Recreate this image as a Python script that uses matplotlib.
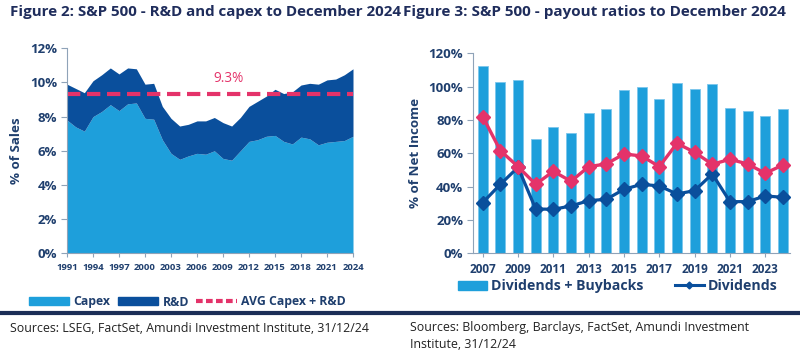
import matplotlib
matplotlib.use("Agg")
import matplotlib.pyplot as plt
from matplotlib.patches import Patch
from matplotlib.lines import Line2D
import numpy as np

plt.rcParams['font.family'] = ['Open Sans', 'DejaVu Sans']

# ---------------- data ----------------
years_l = list(range(1991, 2025))
capex = [7.8, 7.4, 7.15, 8.0, 8.3, 8.7, 8.35, 8.75, 8.8, 7.9, 7.85, 6.65, 5.85, 5.5, 5.7,
         5.85, 5.8, 6.0, 5.55, 5.45, 6.0, 6.55, 6.65, 6.85, 6.9, 6.55, 6.4, 6.8, 6.7, 6.35,
         6.5, 6.55, 6.6, 6.85]
rnd = [2.1, 2.25, 2.25, 2.1, 2.15, 2.15, 2.15, 2.1, 2.0, 2.0, 2.1, 1.95, 2.05, 1.95, 1.85,
       1.9, 1.95, 1.95, 2.1, 2.0, 1.95, 2.05, 2.25, 2.35, 2.7, 2.8, 3.05, 3.05, 3.25, 3.55,
       3.65, 3.65, 3.85, 3.95]
avg_capex_rnd = 9.3
xticks_l = list(range(1991, 2025, 3))

years_r = list(range(2007, 2025))
div_buyback = [112.6, 103, 104, 68.4, 75.8, 72, 84.4, 86.4, 98.2, 100, 92.4, 102, 98.6,
               101.8, 87.4, 85.2, 82.4, 86.6]
payout = [82, 61.6, 52, 41.4, 49.2, 43.2, 52, 53.6, 59.6, 58.4, 52, 66, 60.6, 53.4,
          56.4, 53.6, 48, 53]
dividends = [30.4, 41.4, 51.6, 26.6, 26.4, 28.4, 31.6, 32.4, 38.4, 41.4, 40.4, 35.6,
             37.6, 47.6, 31, 31, 34.4, 33.6]
xticks_r = list(range(2007, 2024, 2))

# ---------------- style ----------------
LIGHT = '#1E9FDB'
DARK = '#0A4F9C'
PINK = '#E4336A'
NAVY = '#1F2D5C'
TICKC = '#1F3F6E'
SPINE = '#8FA3B8'

fig = plt.figure(figsize=(8.0, 3.51), dpi=100)
W, H = 800, 351

def ax_rect(x0, y0, x1, y1):
    return [x0 / W, 1 - y1 / H, (x1 - x0) / W, (y1 - y0) / H]

# titles
fig.text(10 / W, 1 - 12 / H, 'Figure 2: S&P 500 - R&D and capex to December 2024',
         fontsize=10.9, fontweight='bold', color=NAVY, va='center', ha='left')
fig.text(403 / W, 1 - 12 / H, 'Figure 3: S&P 500 - payout ratios to December 2024',
         fontsize=11.0, fontweight='bold', color=NAVY, va='center', ha='left')

# ---------------- left chart ----------------
axl = fig.add_axes(ax_rect(67, 48.3, 353, 253.3))
cap = np.array(capex)
tot = cap + np.array(rnd)
axl.fill_between(years_l, 0, cap, color=LIGHT, lw=0)
axl.fill_between(years_l, cap, tot, color=DARK, lw=0)
axl.axhline(avg_capex_rnd, color=PINK, lw=3, ls=(0, (3.2, 1.6)))
axl.text(2009.6, 10.25, '9.3%', color=PINK, fontsize=9.8, ha='center', va='center')
axl.set_xlim(1991, 2024)
axl.set_ylim(0, 12)
axl.set_yticks(np.arange(0, 13, 2))
axl.set_yticklabels([f'{v}%' for v in range(0, 13, 2)])
axl.set_xticks(xticks_l)
axl.set_xticklabels([str(y) for y in xticks_l])
axl.tick_params(axis='y', labelsize=9.5, colors=SPINE, labelcolor=TICKC, length=4, width=0.8, pad=3)
axl.tick_params(axis='x', labelsize=6.8, colors=SPINE, labelcolor=TICKC, length=3, width=0.8, pad=4)
for lab in axl.get_yticklabels() + axl.get_xticklabels():
    lab.set_fontweight('bold')
for s in ['top', 'right']:
    axl.spines[s].set_visible(False)
axl.spines['left'].set_color(SPINE)
axl.spines['bottom'].set_color(SPINE)
axl.set_ylabel('% of Sales', fontsize=9.6, fontweight='bold', color=TICKC, labelpad=5)

handles_l = [Patch(color=LIGHT, label='Capex'), Patch(color=DARK, label='R&D'),
             Line2D([], [], color=PINK, lw=3, ls=(0, (1.6, 0.8)), label='AVG Capex + R&D')]
leg = fig.legend(handles=handles_l, loc='center left', bbox_to_anchor=(24 / W, 1 - 302 / H),
                 ncol=3, frameon=False, fontsize=8.8, handlelength=3.3, handleheight=0.6,
                 handletextpad=0.35, columnspacing=0.6, borderaxespad=0)
for t in leg.get_texts():
    t.set_color(TICKC)
    t.set_fontweight('bold')

# ---------------- right chart ----------------
axr = fig.add_axes(ax_rect(473, 53.3, 790, 253.3))
axr.bar(years_r, div_buyback, width=0.56, color=LIGHT, edgecolor='#7CC6EC', linewidth=0.6,
        zorder=2)
axr.plot(years_r, payout, color=PINK, lw=2.4, marker='D', ms=7, mfc=PINK, mec=PINK, zorder=4)
axr.plot(years_r, dividends, color=DARK, lw=2.3, marker='D', ms=7, mfc=DARK, mec=DARK, zorder=3)
axr.set_xlim(2007 - 0.55, 2024 + 0.4)
axr.set_ylim(0, 120)
axr.set_yticks(np.arange(0, 121, 20))
axr.set_yticklabels([f'{v}%' for v in range(0, 121, 20)])
axr.set_xticks(xticks_r)
axr.set_xticklabels([str(y) for y in xticks_r])
axr.tick_params(axis='y', labelsize=9.5, colors=SPINE, labelcolor=TICKC, length=4, width=0.8, pad=3)
axr.tick_params(axis='x', labelsize=8.5, colors=SPINE, labelcolor=TICKC, length=3, width=0.8, pad=4)
for lab in axr.get_yticklabels() + axr.get_xticklabels():
    lab.set_fontweight('bold')
for s in ['top', 'right']:
    axr.spines[s].set_visible(False)
axr.spines['left'].set_color(SPINE)
axr.spines['bottom'].set_color(SPINE)
axr.set_ylabel('% of Net Income', fontsize=9.6, fontweight='bold', color=TICKC, labelpad=5)

handles_r = [Patch(color=LIGHT, label='Dividends + Buybacks'),
             Line2D([], [], color=DARK, lw=2.2, marker='D', ms=3.5, label='Dividends')]
leg2 = fig.legend(handles=handles_r, loc='center left', bbox_to_anchor=(452 / W, 1 - 286 / H),
                  ncol=2, frameon=False, fontsize=10.2, handlelength=2.1, handleheight=0.6,
                  handletextpad=0.25, columnspacing=2.2, borderaxespad=0)
for t in leg2.get_texts():
    t.set_color(TICKC)
    t.set_fontweight('bold')

# ---------------- footer ----------------
fig.add_artist(Line2D([0, 1], [1 - 313 / H, 1 - 313 / H], color='#1C2E57', lw=3,
                      transform=fig.transFigure))
fig.text(10 / W, 1 - 328 / H, 'Sources: LSEG, FactSet, Amundi Investment Institute, 31/12/24',
         fontsize=8.9, color='#222222', va='center', ha='left')
fig.text(410 / W, 1 - 328 / H, 'Sources: Bloomberg, Barclays, FactSet, Amundi Investment',
         fontsize=8.9, color='#222222', va='center', ha='left')
fig.text(410 / W, 1 - 344 / H, 'Institute, 31/12/24',
         fontsize=8.9, color='#222222', va='center', ha='left')

fig.savefig('out.png', dpi=100)
